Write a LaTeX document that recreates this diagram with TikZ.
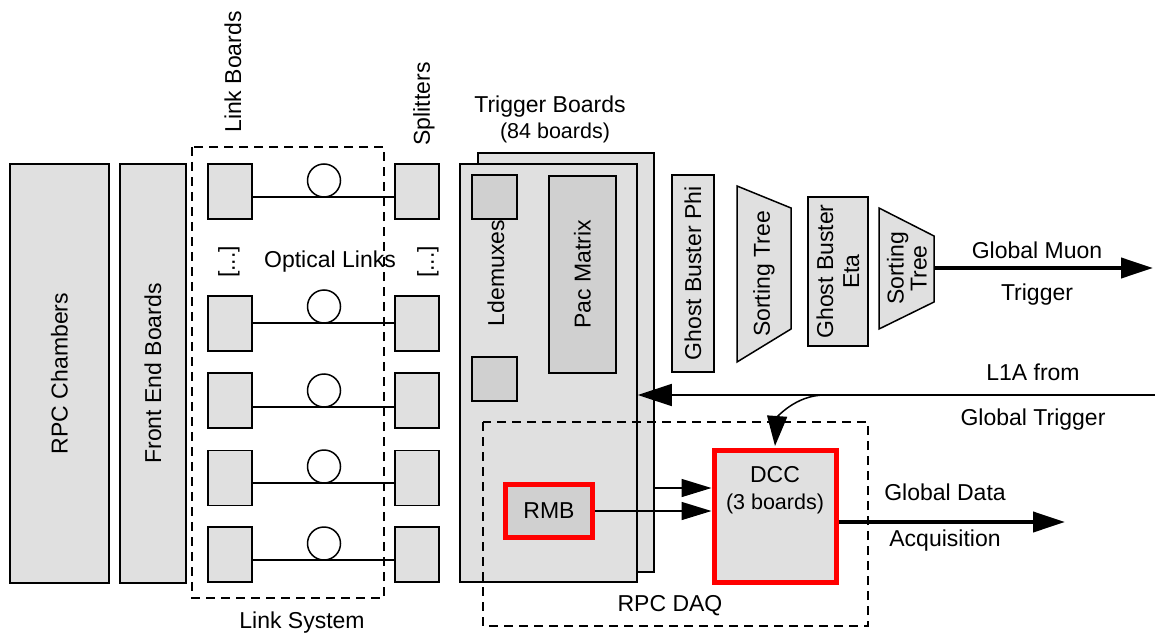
\documentclass[tikz,border=0pt]{standalone}
\usepackage{fontspec}
\setmainfont{Liberation Sans}
\usetikzlibrary{arrows.meta}
\definecolor{boxfill}{HTML}{E0E0E0}
\definecolor{darkfill}{HTML}{D0D0D0}
\definecolor{redline}{HTML}{FF0000}
\begin{document}
\begin{tikzpicture}[x=1pt,y=-1pt,
  every node/.style={font=\fontsize{23}{26}\selectfont, inner sep=0pt},
  box/.style={draw=black, fill=boxfill, line width=1.5pt, rectangle},
  darkbox/.style={draw=black, fill=darkfill, line width=1.5pt, rectangle},
  redbox/.style={draw=redline, line width=5pt, rectangle},
  wire/.style={line width=1.5pt},
  dashbox/.style={draw=black, line width=1.5pt, dash pattern=on 9pt off 6pt},
  thinarrow/.style={line width=1.5pt, -{Triangle[length=30pt,width=18pt]}},
  thickarrow/.style={line width=4pt, -{Triangle[length=32pt,width=20pt]}},
  small/.style={font=\fontsize{21.5}{24}\selectfont}
]
\useasboundingbox (0,0) rectangle (1155,639);

% left columns
\node[box, rotate=90, minimum width=419pt, minimum height=99pt] (rpc) at (59.5,373.5) {RPC Chambers};
\node[box, rotate=90, minimum width=419pt, minimum height=66pt] (feb) at (153,373.5) {Front End Boards};

% link system
\draw[dashbox] (192,147) rectangle (384,598);
\node (lsys) at (302,623) {Link System};
\node[rotate=90] (lbl) at (233,72) {Link Boards};
\node[rotate=90] (spl) at (424,104) {Splitters};
\node (optl) at (330,262) {Optical Links};
\node[rotate=90] (dots1) at (229,262) {[...]};
\node[rotate=90] (dots2) at (428,262) {[...]};

\foreach \i/\c/\l in {1/191.5/197, 2/323.5/323, 3/400.5/407, 4/478/483, 5/554.5/560}{
  \node[box, minimum width=44pt, minimum height=55pt] (lb\i) at (230,\c) {};
  \node[box, minimum width=44pt, minimum height=55pt] (sp\i) at (417,\c) {};
  \coordinate (la\i) at (252,\l);
  \coordinate (lz\i) at (395,\l);
  \draw[wire] (la\i) -- (lz\i);
  \draw[wire, fill=white] (324,\l-16.5) circle (16.5pt);
}

% trigger boards
\node (tbt) at (550,107) {Trigger Boards};
\node[small] (tbn) at (555,133) {(84 boards)};
\node[box, minimum width=176pt, minimum height=419pt] (tbback) at (566,362.5) {};
\node[box, minimum width=177pt, minimum height=418pt] (tbfront) at (548.5,373) {};
\node[darkbox, minimum width=45pt, minimum height=44pt] (ld1) at (494.5,197) {};
\node[darkbox, minimum width=45pt, minimum height=44pt] (ld2) at (494.5,379) {};
\node[rotate=90] (ldt) at (496,273) {Ldemuxes};
\node[darkbox, rotate=90, minimum width=197pt, minimum height=67pt] (pac) at (582.5,274.5) {Pac Matrix};

% ghost busters and sorting trees
\node[box, rotate=90, minimum width=197pt, minimum height=42pt] (gbphi) at (693,273.5) {Ghost Buster Phi};
\draw[box] (737,186) -- (791,208) -- (791,329) -- (737,362) -- cycle;
\node[rotate=90] (st1) at (764,274) {Sorting Tree};
\node[box, rotate=90, minimum width=149pt, minimum height=60pt, align=center] (gbeta) at (838,271.5) {Ghost Buster\\Eta};
\draw[box] (879,208) -- (934,236) -- (934,302) -- (879,329) -- cycle;
\node[rotate=90, align=center, font=\fontsize{23}{23}\selectfont] (st2) at (907,268.5) {Sorting\\Tree};
\coordinate (st2out) at (934,268);
\coordinate (gmend) at (1153,268);
\draw[thickarrow] (st2out) -- (gmend);
\node (gm1) at (1037,250) {Global Muon};
\node (gm2) at (1037,295) {Trigger};

% RPC DAQ
\draw[dashbox] (483,422) rectangle (868,626);
\node (daq) at (670,606) {RPC DAQ};
\node[box, draw=redline, line width=5pt, minimum width=122pt, minimum height=132pt] (dcc) at (775,516) {};
\node (dcct) at (775,475) {DCC};
\node[small] (dccn) at (775,504) {(3 boards)};
\node[darkbox, draw=redline, line width=5pt, minimum width=87pt, minimum height=53pt] (rmb) at (549,511) {RMB};

\coordinate (tbout) at (654,488);
\draw[thinarrow] (tbout) -- (dcc.west |- tbout);
\draw[thinarrow] (rmb.east) -- (dcc.west |- rmb.east);

% L1A
\coordinate (l1a) at (1155,395);
\coordinate (l1split) at (825,395);
\draw[line width=1.5pt, -{Triangle[length=34pt,width=22pt]}] (l1a) -- (tbfront.east |- l1a);
\draw[line width=1.5pt, -{Triangle[length=30pt,width=20pt]}] (l1split) .. controls (795,395) and (777,418) .. (775,446);
\node (l1t1) at (1033,372) {L1A from};
\node (l1t2) at (1033,420) {Global Trigger};

% global data
\coordinate (gdend) at (1065,522);
\draw[thickarrow] (dcc.east |- gdend) -- (gdend);
\node (gd1) at (945,492) {Global Data};
\node (gd2) at (945,541) {Acquisition};
\end{tikzpicture}
\end{document}
